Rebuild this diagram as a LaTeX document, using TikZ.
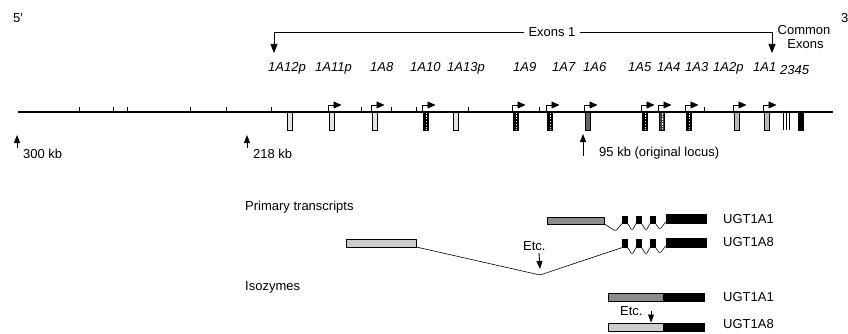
\documentclass[tikz,border=0pt]{standalone}
\usepackage{fontspec}
\setmainfont{Liberation Sans}
\usetikzlibrary{arrows.meta}
\definecolor{gmid}{gray}{0.55}
\definecolor{glight}{gray}{0.80}
\begin{document}
\begin{tikzpicture}[x=1pt,y=-1pt,
  every node/.style={inner sep=0pt, font=\fontsize{13}{15}\selectfont},
  lbl/.style={anchor=base west},
  exlbl/.style={anchor=base west, font=\fontsize{13}{15}\selectfont\itshape},
  exon/.style={draw, line width=1.1pt, minimum width=5pt, minimum height=18pt, anchor=north west},
  hollow/.style={exon, fill=gray!20},
  greyex/.style={exon, fill=gray!55},
  darkex/.style={exon, fill=black!60},
  solidex/.style={exon, fill=black},
  dashex/.style={exon, fill=black, path picture={\draw[white, line width=0.7pt, dash pattern=on 1.2pt off 1.6pt]
      (path picture bounding box.north) -- (path picture bounding box.south);}},
  dotex/.style={exon, fill=black!75, path picture={\draw[white, line width=0.6pt, dash pattern=on 0.7pt off 1pt]
      (path picture bounding box.north) -- (path picture bounding box.south);}},
  promoter/.style={line width=0.6pt, -{Triangle[length=8pt,width=7pt]}},
  posarrow/.style={line width=0.9pt, -{Triangle[length=8pt,width=6pt]}},
  bracket/.style={line width=0.7pt, -{Triangle[length=9pt,width=7pt]}},
  bar/.style={draw, line width=0.6pt, anchor=north west},
  intron/.style={line width=0.6pt, rounded corners=1.5pt},
  tickmark/.style={line width=0.6pt},
]
\useasboundingbox (0,0) rectangle (848,334);

% strand ends
\node[lbl] (five) at (13,23) {5′};
\node[lbl] (three) at (841,23) {3′};

% bracket over the first exons
\node[inner sep=4pt] (ex1) at (552,32) {Exons 1};
\coordinate (bl) at (274,53);
\coordinate (br) at (772,53);
\draw[bracket] (ex1.west) -| (bl);
\draw[bracket] (ex1.east) -| (br);
\node[align=center] (common) at (804,37) {Common\\[-1pt]\hspace*{3pt}Exons};

% exon names
\node[exlbl] (l12p) at (268,72) {1A12p};
\node[exlbl] (l11p) at (315,72) {1A11p};
\node[exlbl] (l8)   at (370,72) {1A8};
\node[exlbl] (l10)  at (410,72) {1A10};
\node[exlbl] (l13p) at (447,72) {1A13p};
\node[exlbl] (l9)   at (513,72) {1A9};
\node[exlbl] (l7)   at (552,72) {1A7};
\node[exlbl] (l6)   at (583,72) {1A6};
\node[exlbl] (l5)   at (628,72) {1A5};
\node[exlbl] (l4)   at (657,72) {1A4};
\node[exlbl] (l3)   at (685,72) {1A3};
\node[exlbl] (l2p)  at (713,72) {1A2p};
\node[exlbl] (l1)   at (753,72) {1A1};
\node[exlbl] (lc)   at (780,75) {2345};

% the locus
\coordinate (locL) at (18,112);
\coordinate (locR) at (833,112);
\foreach \t in {79,113,127,190,226,271,361,391,416,468,539,704}
  \draw[tickmark] (\t,112) -- (\t,107);
\draw[line width=2pt] (locL) -- (locR);

% first exons
\node[hollow]  (e12p) at (287,112) {};
\node[hollow]  (e11p) at (329,112) {};
\node[hollow]  (e8)   at (372,112) {};
\node[dashex]  (e10)  at (423,112) {};
\node[hollow]  (e13p) at (453,112) {};
\node[dashex]  (e9)   at (513,112) {};
\node[dashex]  (e7)   at (547,112) {};
\node[darkex]  (e6)   at (585,112) {};
\node[dashex]  (e5)   at (642,112) {};
\node[dotex]   (e4)   at (659,112) {};
\node[dashex]  (e3)   at (686,112) {};
\node[greyex]  (e2p)  at (734,112) {};
\node[greyex]  (e1)   at (764,112) {};
% common exons 2-5
\foreach \c in {783,786,789}
  \draw[tickmark] (\c,112) -- (\c,130);
\node[solidex] (ecom) at (798,112) {};

% promoters
\foreach \e in {e11p,e8,e10,e9,e7,e6,e5,e4,e3,e2p,e1}
  \draw[promoter] ([xshift=-0.5pt]\e.north west) -- ++(0,-7) -- ++(13,0);

% positions along the locus
\coordinate (p300) at (17,148);
\coordinate (p218) at (247,148);
\coordinate (p95)  at (583,156);
\draw[posarrow] (p300) -- ++(0,-13);
\draw[posarrow] (p218) -- ++(0,-13);
\draw[posarrow] (p95)  -- ++(0,-22);
\node[lbl] (k300) at (23,158) {300 kb};
\node[lbl] (k218) at (253,158) {218 kb};
\node[lbl] (k95)  at (599,157) {95 kb (original locus)};

% primary transcripts
\node[lbl] (prim) at (245,210) {Primary transcripts};

\node[bar, fill=gmid, minimum width=57pt, minimum height=6.5pt] (t1g) at (547,217) {};
\node[bar, fill=black, minimum width=5pt, minimum height=7pt] (t1a) at (622,216) {};
\node[bar, fill=black, minimum width=5pt, minimum height=7pt] (t1b) at (636,216) {};
\node[bar, fill=black, minimum width=5pt, minimum height=7pt] (t1c) at (650,216) {};
\node[bar, fill=black, minimum width=40pt, minimum height=9pt] (t1x) at (666,214) {};
\draw[intron] (t1g.south east) -- ++(11,7) -- (t1a.south west);
\draw[intron] (t1a.south east) -- ++(4.5,7) -- (t1b.south west);
\draw[intron] (t1b.south east) -- ++(4.5,7) -- (t1c.south west);
\draw[intron] (t1c.south east) -- ++(4,6) -- ([yshift=2pt]t1x.south west);
\node[lbl] (u1a) at (723,223) {UGT1A1};

\node[bar, fill=glight, minimum width=70pt, minimum height=7.5pt] (t2g) at (346,239) {};
\node[bar, fill=black, minimum width=5pt, minimum height=8pt] (t2a) at (622,239) {};
\node[bar, fill=black, minimum width=5pt, minimum height=8pt] (t2b) at (636,239) {};
\node[bar, fill=black, minimum width=5pt, minimum height=8pt] (t2c) at (650,239) {};
\node[bar, fill=black, minimum width=40pt, minimum height=9pt] (t2x) at (666,238) {};
\coordinate (dip) at (540,275);
\draw[intron] (t2g.south east) -- (dip) -- (t2a.south west);
\draw[intron] (t2a.south east) -- ++(4.5,7) -- (t2b.south west);
\draw[intron] (t2b.south east) -- ++(4.5,7) -- (t2c.south west);
\draw[intron] (t2c.south east) -- ++(4,6) -- ([yshift=2pt]t2x.south west);
\node[lbl] (u1b) at (723,246) {UGT1A8};
\node[lbl] (etc1) at (523,250) {Etc.};
\coordinate (etc1a) at (539,253);
\draw[posarrow] (etc1a) -- ([yshift=6pt]dip);

% isozymes
\node[lbl] (iso) at (245,290) {Isozymes};

\node[bar, fill=gmid, minimum width=55pt, minimum height=8pt] (i1g) at (608,293) {};
\node[bar, fill=black, minimum width=41pt, minimum height=8pt] (i1x) at (663,293) {};
\node[lbl] (u2a) at (723,301) {UGT1A1};

\node[bar, fill=glight, minimum width=55pt, minimum height=8pt] (i2g) at (608,322.5) {};
\node[bar, fill=black, minimum width=41pt, minimum height=8pt] (i2x) at (663,322.5) {};
\node[lbl] (u2b) at (723,328) {UGT1A8};
\node[lbl] (etc2) at (620,315) {Etc.};
\coordinate (etc2a) at (651,311);
\draw[posarrow] (etc2a) -- (etc2a |- i2g.north);
\end{tikzpicture}
\end{document}
